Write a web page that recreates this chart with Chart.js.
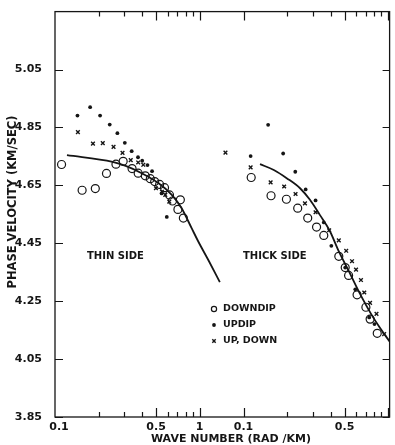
<!DOCTYPE html>
<html>
<head>
<meta charset="utf-8">
<script src="https://cdn.jsdelivr.net/npm/chart.js@4.4.1/dist/chart.umd.min.js"></script>
<style>
html, body { margin: 0; padding: 0; background: #fff; }
#wrap { width: 395px; height: 445px; position: relative; }
</style>
</head>
<body>
<div id="wrap"><canvas id="chart"></canvas></div>
<script>
// thin side (left panel): wave number (rad/km) and phase velocity (km/sec)
const thinCurveK = [0.121, 0.250, 0.308, 0.401, 0.521, 0.642, 0.751, 0.879, 0.977, 1.161, 1.380];
const thinCurveV = [4.754, 4.731, 4.717, 4.691, 4.657, 4.617, 4.571, 4.503, 4.457, 4.388, 4.316];
const thinDowndipK = [0.111, 0.154, 0.190, 0.227, 0.264, 0.296, 0.341, 0.376, 0.421, 0.456, 0.489, 0.529, 0.572, 0.619, 0.649, 0.736, 0.708, 0.772];
const thinDowndipV = [4.722, 4.633, 4.639, 4.691, 4.723, 4.733, 4.708, 4.692, 4.683, 4.673, 4.663, 4.653, 4.642, 4.617, 4.596, 4.600, 4.567, 4.537];
const thinUpdipK = [0.143, 0.175, 0.205, 0.239, 0.270, 0.304, 0.339, 0.375, 0.401, 0.436, 0.469, 0.546, 0.593];
const thinUpdipV = [4.891, 4.920, 4.891, 4.860, 4.830, 4.797, 4.768, 4.747, 4.735, 4.720, 4.699, 4.622, 4.541];
const thinUpDownK = [0.144, 0.183, 0.214, 0.254, 0.293, 0.334, 0.376, 0.408, 0.499, 0.549, 0.579, 0.617];
const thinUpDownV = [4.834, 4.794, 4.796, 4.783, 4.762, 4.737, 4.729, 4.721, 4.640, 4.628, 4.617, 4.594];

// thick side (right panel)
const thickCurveK = [0.130, 0.162, 0.200, 0.246, 0.288, 0.337, 0.393, 0.459, 0.538, 0.629, 0.760, 0.875, 1.024];
const thickCurveV = [4.723, 4.703, 4.674, 4.640, 4.600, 4.548, 4.495, 4.419, 4.351, 4.282, 4.207, 4.159, 4.111];
const thickDowndipK = [0.113, 0.155, 0.198, 0.237, 0.278, 0.320, 0.359, 0.456, 0.505, 0.533, 0.610, 0.702, 0.751, 0.841];
const thickDowndipV = [4.677, 4.614, 4.602, 4.571, 4.537, 4.506, 4.477, 4.405, 4.366, 4.339, 4.272, 4.229, 4.188, 4.139];
const thickUpdipK = [0.112, 0.148, 0.188, 0.228, 0.269, 0.315, 0.359, 0.405, 0.505, 0.593, 0.740, 0.805];
const thickUpdipV = [4.751, 4.859, 4.760, 4.697, 4.636, 4.598, 4.522, 4.441, 4.366, 4.291, 4.194, 4.171];
const thickUpDownK = [0.075, 0.112, 0.154, 0.191, 0.229, 0.266, 0.315, 0.391, 0.456, 0.513, 0.563, 0.600, 0.649, 0.684, 0.750, 0.831, 0.939];
const thickUpDownV = [4.763, 4.712, 4.660, 4.646, 4.620, 4.588, 4.557, 4.495, 4.460, 4.424, 4.388, 4.359, 4.323, 4.280, 4.244, 4.206, 4.136];

// axis ticks
const yTicks = [3.85, 4.05, 4.25, 4.45, 4.65, 4.85, 5.05];
const xMajorTicks = [0.1, 0.5, 1];
const xMinorTicks = [0.2, 0.3, 0.4, 0.6, 0.7, 0.8, 0.9];
const thinTickLabels = ['0.1', '0.5', '1'];
const thickTickLabels = ['0.1', '0.5'];
const legendLabels = ['DOWNDIP', 'UPDIP', 'UP, DOWN'];

const INK = '#151515';
const FONT = '"DejaVu Sans", sans-serif';

function pts(ks, vs) {
    return ks.map((k, i) => ({ x: k, y: vs[i] }));
}

const curveStyle = {
    showLine: true,
    borderColor: INK,
    borderWidth: 1.8,
    pointRadius: 0,
    cubicInterpolationMode: 'monotone',
    fill: false
};
const downdipStyle = { pointStyle: 'circle', pointRadius: 4, borderWidth: 1.2, borderColor: INK, backgroundColor: 'rgba(0,0,0,0)' };
const updipStyle = { pointStyle: 'circle', pointRadius: 1.9, borderWidth: 0, borderColor: INK, backgroundColor: INK };
const upDownStyle = { pointStyle: 'crossRot', pointRadius: 2.6, borderWidth: 1.4, borderColor: INK, backgroundColor: INK };

const datasets = [
    { label: 'thin curve', data: pts(thinCurveK, thinCurveV), xAxisID: 'x', ...curveStyle },
    { label: 'thick curve', data: pts(thickCurveK, thickCurveV), xAxisID: 'x2', ...curveStyle },
    { label: legendLabels[0], data: pts(thinDowndipK, thinDowndipV), xAxisID: 'x', ...downdipStyle },
    { label: legendLabels[0], data: pts(thickDowndipK, thickDowndipV), xAxisID: 'x2', ...downdipStyle },
    { label: legendLabels[1], data: pts(thinUpdipK, thinUpdipV), xAxisID: 'x', ...updipStyle },
    { label: legendLabels[1], data: pts(thickUpdipK, thickUpdipV), xAxisID: 'x2', ...updipStyle },
    { label: legendLabels[2], data: pts(thinUpDownK, thinUpDownV), xAxisID: 'x', ...upDownStyle },
    { label: legendLabels[2], data: pts(thickUpDownK, thickUpDownV), xAxisID: 'x2', ...upDownStyle }
];

// frame, inward tick marks, labels and legend
const framePlugin = {
    id: 'frame',
    afterDraw(chart) {
        const { ctx, chartArea: a, scales } = chart;
        ctx.save();
        ctx.strokeStyle = INK;
        ctx.fillStyle = INK;
        ctx.lineWidth = 1.3;
        ctx.strokeRect(a.left, a.top, a.right - a.left, a.bottom - a.top);

        ctx.lineWidth = 1.2;
        ctx.beginPath();
        yTicks.forEach(v => {
            const py = Math.round(scales.y.getPixelForValue(v)) + 0.5;
            ctx.moveTo(a.left, py); ctx.lineTo(a.left + 8, py);
            ctx.moveTo(a.right, py); ctx.lineTo(a.right - 7, py);
        });
        ['x', 'x2'].forEach(id => {
            const s = scales[id];
            const mark = (v, len) => {
                const px = Math.round(s.getPixelForValue(v)) + 0.5;
                if (px < a.left + 1 || px > a.right + 1) return;
                ctx.moveTo(px, a.bottom); ctx.lineTo(px, a.bottom - len);
                ctx.moveTo(px, a.top); ctx.lineTo(px, a.top + len);
            };
            xMinorTicks.forEach(v => mark(v, 5));
            xMajorTicks.forEach(v => mark(v, 9));
        });
        ctx.stroke();

        // bottom tick labels
        ctx.font = 'bold 11px ' + FONT;
        ctx.textAlign = 'center';
        ctx.textBaseline = 'middle';
        thinTickLabels.forEach((t, i) => {
            let px = scales.x.getPixelForValue(xMajorTicks[i]);
            if (i === 0) px += 4;
            ctx.fillText(t, px, a.bottom + 10);
        });
        thickTickLabels.forEach((t, i) => {
            ctx.fillText(t, scales.x2.getPixelForValue(xMajorTicks[i]), a.bottom + 10);
        });

        // axis titles
        ctx.font = 'bold 11px ' + FONT;
        ctx.fillText('WAVE NUMBER (RAD /KM)', 231, 439);
        ctx.save();
        ctx.translate(13, 202);
        ctx.rotate(-Math.PI / 2);
        ctx.font = 'bold 11.5px ' + FONT;
        ctx.fillText('PHASE VELOCITY (KM/SEC)', 0, 0);
        ctx.restore();

        // panel notes
        ctx.font = 'bold 10px ' + FONT;
        ctx.textAlign = 'left';
        ctx.fillText('THIN SIDE', 87, 256);
        ctx.fillText('THICK SIDE', 243, 256);

        // legend
        const rows = [
            { style: downdipStyle, r: 2.6, y: 309 },
            { style: updipStyle, r: 1.9, y: 325 },
            { style: upDownStyle, r: 2.4, y: 341 }
        ];
        ctx.font = 'bold 9.5px ' + FONT;
        rows.forEach((row, i) => {
            ctx.save();
            ctx.strokeStyle = INK;
            ctx.fillStyle = row.style.backgroundColor;
            ctx.lineWidth = row.style.borderWidth || 0.01;
            Chart.helpers.drawPoint(ctx, {
                pointStyle: row.style.pointStyle,
                radius: row.r,
                rotation: 0,
                borderWidth: row.style.borderWidth
            }, 214, row.y);
            ctx.restore();
            ctx.fillText(legendLabels[i], 223, row.y);
        });
        ctx.restore();
    }
};

new Chart(document.getElementById('chart'), {
    type: 'scatter',
    data: { datasets },
    options: {
        responsive: true,
        maintainAspectRatio: false,
        animation: false,
        layout: { padding: { top: 9, right: 1, bottom: 28, left: 0 } },
        plugins: {
            legend: { display: false },
            tooltip: { enabled: false }
        },
        scales: {
            x: { type: 'logarithmic', min: 0.1, max: 20.6, display: false },
            x2: { type: 'logarithmic', min: 0.004968, max: 1.024, display: false },
            y: {
                type: 'linear',
                min: 3.85,
                max: 5.25,
                position: 'left',
                afterFit(scale) { scale.width = 55; },
                afterBuildTicks(scale) { scale.ticks = yTicks.map(v => ({ value: v })); },
                grid: { display: false },
                border: { display: false },
                ticks: {
                    padding: 5,
                    color: INK,
                    font: { family: FONT, size: 11, weight: 'bold' },
                    callback: v => v.toFixed(2)
                }
            }
        }
    },
    plugins: [framePlugin]
});
</script>
</body>
</html>
